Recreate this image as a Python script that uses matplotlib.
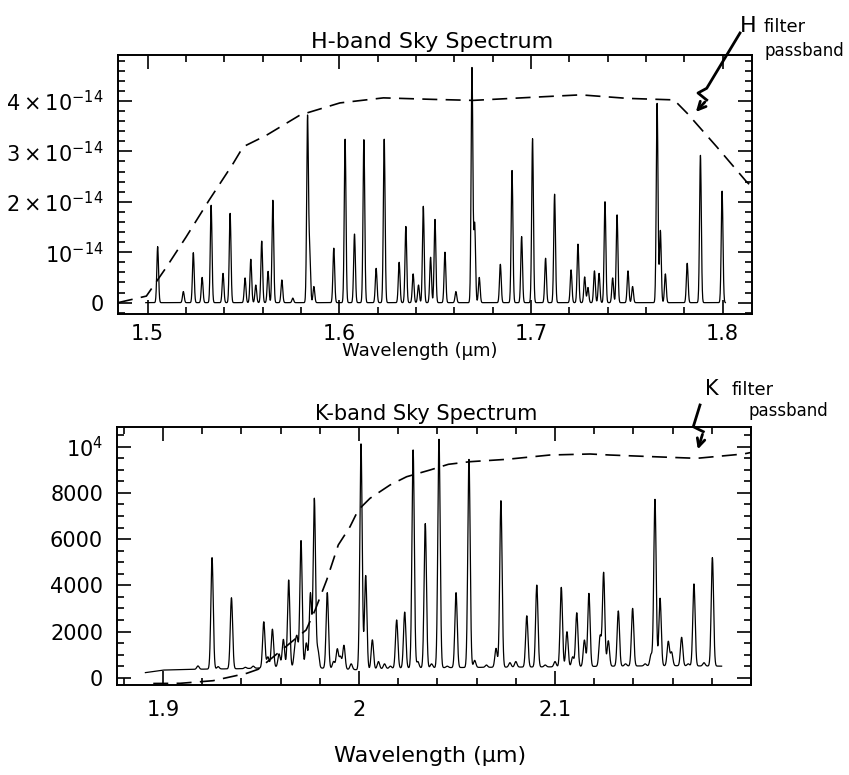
import numpy as np
import matplotlib
matplotlib.use("Agg")
import matplotlib.pyplot as plt
from matplotlib.lines import Line2D
from matplotlib.patches import FancyArrowPatch
from matplotlib.ticker import MultipleLocator

plt.rcParams['font.family'] = ['DejaVu Sans']
plt.rcParams['mathtext.fontset'] = 'dejavusans'

# H band OH lines: wavelength (um) and peak flux (units of 1e-14)
h_wl = [1.5052, 1.5186, 1.5238, 1.5284, 1.5331, 1.5393, 1.5430, 1.5508, 1.5538,
        1.5564, 1.5595, 1.5628, 1.5653, 1.5700, 1.5757, 1.5834, 1.5845, 1.5867,
        1.5971, 1.6030, 1.6079, 1.6128, 1.6192, 1.6234, 1.6312, 1.6347, 1.6385,
        1.6413, 1.6438, 1.6476, 1.6499, 1.6551, 1.6608, 1.6692, 1.6706, 1.6730,
        1.6840, 1.6901, 1.6951, 1.7008, 1.7076, 1.7123, 1.7209, 1.7245, 1.7280,
        1.7297, 1.7331, 1.7355, 1.7386, 1.7426, 1.7449, 1.7506, 1.7530, 1.7658,
        1.7675, 1.7701, 1.7815, 1.7884, 1.7997]
h_peak = [1.11, 0.22, 0.99, 0.50, 1.93, 0.58, 1.77, 0.49, 0.86,
          0.35, 1.22, 0.62, 2.03, 0.45, 0.09, 3.67, 1.00, 0.32,
          1.08, 3.24, 1.36, 3.23, 0.68, 3.24, 0.80, 1.51, 0.57,
          0.35, 1.91, 0.90, 1.65, 1.00, 0.22, 4.65, 1.56, 0.50,
          0.76, 2.62, 1.31, 3.25, 0.88, 2.15, 0.65, 1.16, 0.51,
          0.30, 0.63, 0.58, 2.00, 0.49, 1.74, 0.63, 0.32, 3.95,
          1.43, 0.57, 0.78, 2.92, 2.21]

# H filter passband (dashed), same units
h_filt_wl = [1.4845, 1.4993, 1.5097, 1.5200, 1.5320, 1.5446, 1.5498, 1.5620,
             1.5795, 1.6003, 1.6230, 1.6490, 1.6697, 1.7050, 1.7259, 1.7503,
             1.7746, 1.7816, 1.7969, 1.8126, 1.8153]
h_filt = [0.0, 0.13, 0.70, 1.30, 2.03, 2.76, 3.09, 3.32,
          3.72, 3.96, 4.06, 4.03, 4.01, 4.08, 4.12, 4.05,
          4.02, 3.75, 3.09, 2.39, 2.30]

# K band: continuum level and OH lines (peak counts)
k_cont_wl = [1.891, 1.900, 1.920, 1.940, 1.950, 1.960, 1.980, 2.000, 2.020,
             2.050, 2.080, 2.100, 2.130, 2.160, 2.185]
k_cont = [220, 330, 370, 390, 420, 470, 420, 340, 420, 440, 460, 470, 500, 520, 500]

k_wl = [1.9178, 1.9250, 1.9281, 1.9349, 1.9420, 1.9460, 1.9514, 1.9535, 1.9558,
        1.9592, 1.9614, 1.9641, 1.9673, 1.9684, 1.9704, 1.9731, 1.9752, 1.9772,
        1.9790, 1.9838, 1.9870, 1.9889, 1.9905, 1.9923, 1.9960, 2.0010, 2.0034,
        2.0068, 2.0099, 2.0130, 2.0160, 2.0192, 2.0233, 2.0276, 2.0300, 2.0338,
        2.0370, 2.0408, 2.0450, 2.0495, 2.0561, 2.0590, 2.0650, 2.0699, 2.0724,
        2.0770, 2.0800, 2.0856, 2.0907, 2.0950, 2.1000, 2.1032, 2.1061, 2.1090,
        2.1111, 2.1150, 2.1173, 2.1230, 2.1248, 2.1272, 2.1323, 2.1360, 2.1396,
        2.1460, 2.1490, 2.1510, 2.1536, 2.1578, 2.1595, 2.1646, 2.1680, 2.1709,
        2.1760, 2.1803]
k_peak = [510, 5195, 480, 3460, 450, 500, 2420, 900, 2100,
          1030, 1660, 4230, 1240, 1640, 5930, 1500, 3650, 7750,
          1200, 3680, 700, 1240, 900, 1400, 600, 10120, 4420,
          1640, 700, 600, 500, 2500, 2840, 9860, 700, 6670,
          600, 10320, 500, 3680, 9450, 750, 550, 1270, 7660,
          650, 700, 2680, 4010, 550, 700, 3910, 1990, 900,
          2810, 1630, 3650, 1800, 4550, 1600, 2890, 600, 3000,
          600, 1000, 7720, 3440, 1570, 1100, 1750, 600, 4060,
          650, 5200]

# K filter passband (dashed)
k_filt_wl = [1.8950, 1.9087, 1.9255, 1.9427, 1.9485, 1.9730, 1.9776, 1.9835,
             1.9894, 1.9954, 1.9996, 2.0056, 2.0158, 2.0243, 2.0362, 2.0456,
             2.0566, 2.0754, 2.0974, 2.1179, 2.1280, 2.1502, 2.1723, 2.1961, 2.2000]
k_filt = [-250, -243, -130, 190, 363, 2065, 2931, 4229,
          5745, 6537, 7260, 7766, 8342, 8701, 8991, 9238,
          9351, 9454, 9640, 9684, 9640, 9567, 9497, 9684, 9750]


def spectrum(wl_min, wl_max, lines, peaks, base_wl, base, sigma):
    x = np.arange(wl_min, wl_max, 0.0001)
    y = np.interp(x, base_wl, base)
    for c, p in zip(lines, peaks):
        amp = p - np.interp(c, base_wl, base)
        y = y + amp * np.exp(-0.5 * ((x - c) / sigma) ** 2)
    return x, y


W, H = 849, 775
fig = plt.figure(figsize=(W / 100, H / 100), dpi=100)


def px(x, y):
    return x / W, 1 - y / H


def style_axes(ax):
    ax.tick_params(which='both', direction='in', top=True, right=True,
                   labelsize=15, width=1.2)
    ax.tick_params(which='major', length=10, pad=10)
    ax.tick_params(which='minor', length=5)
    for s in ax.spines.values():
        s.set_linewidth(1.4)


# ---- H band ----
ax1 = fig.add_axes([118 / W, 1 - 314 / H, 634 / W, 259 / H])
hx, hy = spectrum(1.499, 1.8015, h_wl, h_peak, [1.499, 1.8015], [0, 0], 0.00045)
ax1.plot(hx, hy * 1e-14, color='black', lw=0.9)
ax1.plot(h_filt_wl, np.array(h_filt) * 1e-14, color='black', lw=1.2,
         linestyle=(0, (9, 5)))
ax1.set_xlim(1.4845, 1.8153)
ax1.set_ylim(-0.225e-14, 4.91e-14)
ax1.set_xticks([1.5, 1.6, 1.7, 1.8])
ax1.set_xticklabels(['1.5', '1.6', '1.7', '1.8'])
ax1.xaxis.set_minor_locator(MultipleLocator(0.02))
ax1.set_yticks([0, 1e-14, 2e-14, 3e-14, 4e-14])
ax1.set_yticklabels(['0', r'$10^{-14}$', r'$2\times10^{-14}$',
                     r'$3\times10^{-14}$', r'$4\times10^{-14}$'])
ax1.yaxis.set_minor_locator(MultipleLocator(0.2e-14))
style_axes(ax1)
ax1.tick_params(axis='x', which='major', pad=7)

# ---- K band ----
ax2 = fig.add_axes([117 / W, 1 - 685 / H, 634 / W, 258 / H])
kx, ky = spectrum(1.891, 2.185, k_wl, k_peak, k_cont_wl, k_cont, 0.0006)
ax2.plot(kx, ky, color='black', lw=0.9)
ax2.plot(k_filt_wl, k_filt, color='black', lw=1.2, linestyle=(0, (9, 5)))
ax2.set_xlim(1.8765, 2.2)
ax2.set_ylim(-316, 10853)
ax2.set_xticks([1.9, 2.0, 2.1])
ax2.set_xticklabels(['1.9', '2', '2.1'])
ax2.xaxis.set_minor_locator(MultipleLocator(0.02))
ax2.set_yticks([0, 2000, 4000, 6000, 8000, 10000])
ax2.set_yticklabels(['0', '2000', '4000', '6000', '8000', r'$10^{4}$'])
ax2.yaxis.set_minor_locator(MultipleLocator(500))
style_axes(ax2)
ax2.tick_params(axis='x', which='major', pad=11)

# ---- hand-written style labels ----
hand = dict(family='DejaVu Sans', color='black')
fig.text(*px(432, 48), 'H-band Sky Spectrum', ha='center', va='baseline', fontsize=16, **hand)
fig.text(*px(420, 356), 'Wavelength (μm)', ha='center', va='baseline', fontsize=13, **hand)
fig.text(*px(426, 420), 'K-band Sky Spectrum', ha='center', va='baseline', fontsize=15, **hand)
fig.text(*px(430, 762), 'Wavelength (μm)', ha='center', va='baseline', fontsize=16, **hand)

fig.text(*px(740, 32), 'H', ha='left', va='baseline', fontsize=16, **hand)
fig.text(*px(764, 32), 'filter', ha='left', va='baseline', fontsize=13, **hand)
fig.text(*px(764, 56), 'passband', ha='left', va='baseline', fontsize=12, **hand)
fig.text(*px(705, 395), 'K', ha='left', va='baseline', fontsize=15, **hand)
fig.text(*px(732, 395), 'filter', ha='left', va='baseline', fontsize=13, **hand)
fig.text(*px(748, 416), 'passband', ha='left', va='baseline', fontsize=12, **hand)

# squiggly arrows
h_arrow = [(740, 33), (706.7, 88.3), (698, 93), (706.7, 100)]
k_arrow = [(700, 405), (693.3, 426.7), (703.3, 431.7)]
for pts, tip in [(h_arrow, (694, 114)), (k_arrow, (697, 452))]:
    xs = [px(*p)[0] for p in pts]
    ys = [px(*p)[1] for p in pts]
    fig.add_artist(Line2D(xs, ys, transform=fig.transFigure, color='black', lw=2))
    fig.add_artist(FancyArrowPatch(px(*pts[-1]), px(*tip), transform=fig.transFigure,
                                   arrowstyle='->', mutation_scale=14, lw=2, color='black'))

fig.savefig('out.png', dpi=100)
